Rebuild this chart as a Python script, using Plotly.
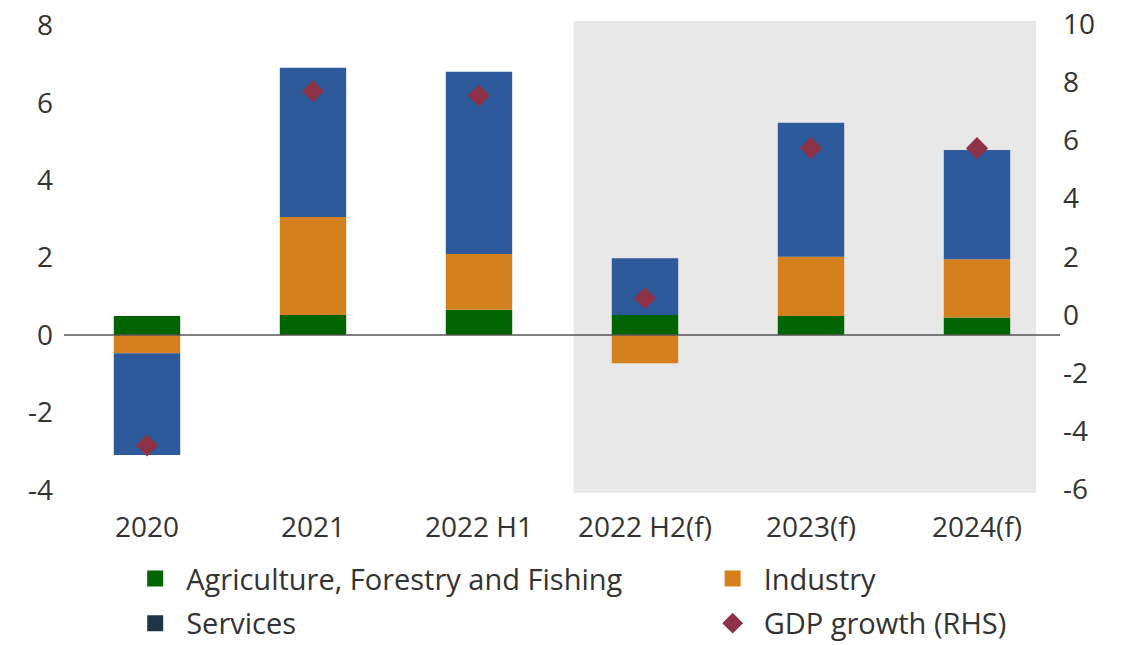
import plotly.graph_objects as go

categories = ["2020", "2021", "2022 H1", "2022 H2(f)", "2023(f)", "2024(f)"]
agriculture = [0.49, 0.52, 0.65, 0.52, 0.49, 0.45]
industry = [-0.47, 2.53, 1.44, -0.73, 1.53, 1.51]
services = [-2.63, 3.85, 4.71, 1.46, 3.46, 2.82]
gdp_growth = [-4.5, 7.7, 7.55, 0.57, 5.74, 5.74]

left_ticks = [-4, -2, 0, 2, 4, 6, 8]
right_ticks = [-6, -4, -2, 0, 2, 4, 6, 8, 10]

GREEN = "#006400"
ORANGE = "#D4801C"
BLUE = "#2D5A9A"
NAVY = "#1F3547"
MAROON = "#8E3248"
FONT = "Open Sans"
TXT = "#333333"

fig = go.Figure()

for vals, color in [(agriculture, GREEN), (industry, ORANGE), (services, BLUE)]:
    fig.add_trace(go.Bar(x=categories, y=vals, marker=dict(color=color, line=dict(width=0)),
                         width=0.4, showlegend=False))
fig.add_trace(go.Scatter(x=categories, y=gdp_growth, mode="markers", showlegend=False,
                         marker=dict(symbol="diamond", size=17, color=MAROON), yaxis="y2"))

# legend entries (two columns, like the original)
legend_items = [
    ("Agriculture, Forestry and Fishing", "square", GREEN, "legend", "a"),
    ("Services", "square", NAVY, "legend", "b"),
    ("Industry", "square", ORANGE, "legend2", "c"),
    ("GDP growth (RHS)", "diamond", MAROON, "legend2", "d"),
]
for name, sym, color, leg, grp in legend_items:
    fig.add_trace(go.Scatter(x=[None], y=[None], mode="markers", name=name,
                             marker=dict(symbol=sym, size=16, color=color),
                             legend=leg, legendgroup=grp))

# forecast shading
fig.add_shape(type="rect", xref="x", yref="paper", x0=2.57, x1=5.355, y0=0, y1=1,
              fillcolor="#E8E8E8", line=dict(width=0), layer="below")
# zero line
fig.add_shape(type="line", xref="x", yref="y", x0=-0.5, x1=5.5, y0=0, y1=0,
              line=dict(color="#555555", width=1.5), layer="above")

legend_style = dict(orientation="v", xref="container", yref="container", xanchor="left",
                    yanchor="top", font=dict(family=FONT, size=29, color=TXT),
                    bgcolor="rgba(0,0,0,0)", tracegroupgap=4, itemwidth=52,
                    traceorder="grouped")

fig.update_layout(
    width=1125, height=645,
    barmode="relative",
    plot_bgcolor="white", paper_bgcolor="white",
    font=dict(family=FONT, size=28, color=TXT),
    margin=dict(l=64, r=65, t=21, b=152, autoexpand=False),
    xaxis=dict(range=[-0.5, 5.5], showgrid=False, zeroline=False, showline=False,
               ticks="", ticklabelstandoff=15, tickangle=0),
    yaxis=dict(range=[-4.08, 8.11], tickvals=left_ticks, ticktext=[str(t) for t in left_ticks],
               showgrid=False, zeroline=False, showline=False, ticks="", ticklabelstandoff=10,
               ticklabeloverflow="allow"),
    yaxis2=dict(range=[-6.14, 10.12], tickvals=right_ticks, ticktext=[str(t) for t in right_ticks],
                overlaying="y", side="right", showgrid=False, zeroline=False,
                showline=False, ticks="", ticklabelstandoff=2, ticklabeloverflow="allow"),
    legend=dict(x=0.1104, y=0.1425, **legend_style),
    legend2=dict(x=0.6237, y=0.1425, **legend_style),
)

# drop the default page margin so the figure fills the window exactly
fig.write_html("out.html", config={"displayModeBar": False},
               post_script="document.body.style.margin='0';")
